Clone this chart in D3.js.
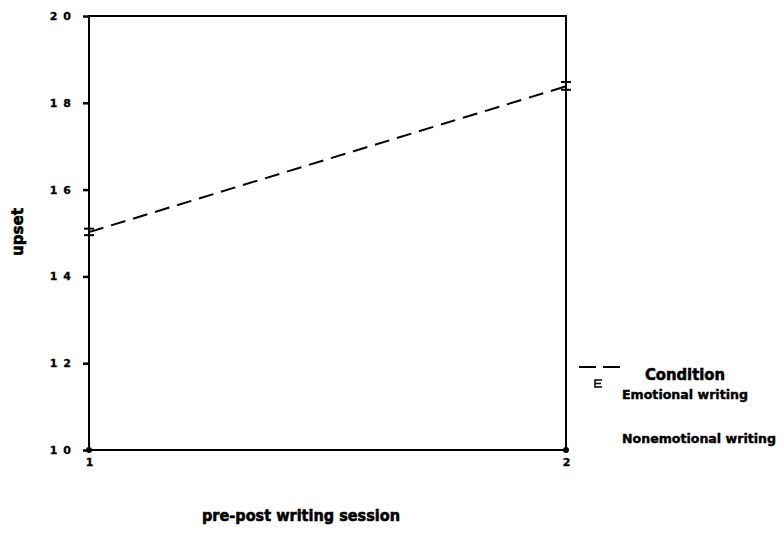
<!DOCTYPE html>
<html>
<head>
<meta charset="utf-8">
<script src="https://cdn.jsdelivr.net/npm/d3@7"></script>
<style>
  html, body { margin: 0; padding: 0; background: #fff; }
  svg { display: block; }
  text { font-family: "DejaVu Sans", "Liberation Sans", Arial, sans-serif; font-weight: bold; fill: #000; }
  text.heavy { stroke: #000; stroke-width: 0.6px; }
</style>
</head>
<body>
<svg id="chart" width="784" height="535"></svg>
<script>
// Sessions on the x axis (pre = 1, post = 2)
const sessions = [1, 2];
// Mean "upset" ratings for the emotional-writing condition
const emotionalMeans = [15.02, 18.38];
// Error bar bounds for each session
const emotionalLow = [14.95, 18.30];
const emotionalHigh = [15.10, 18.48];
// Axis tick values and labels
const yTicks = [10, 12, 14, 16, 18, 20];
const yTickLabels = ["1 0", "1 2", "1 4", "1 6", "1 8", "2 0"];
const xTickLabels = ["1", "2"];
// Legend entries
const legendTitle = "Condition";
const legendNames = ["Emotional writing", "Nonemotional writing"];

const svg = d3.select("#chart");
const plotLeft = 89, plotRight = 566, plotTop = 16, plotBottom = 450;
const fontFamily = "DejaVu Sans, Liberation Sans, Arial, sans-serif";

const x = d3.scaleLinear().domain([1, 2]).range([plotLeft, plotRight]);
const y = d3.scaleLinear().domain([10, 20]).range([plotBottom, plotTop]);

// Frame around the plot area
svg.append("rect")
  .attr("x", plotLeft).attr("y", plotTop)
  .attr("width", plotRight - plotLeft).attr("height", plotBottom - plotTop)
  .attr("fill", "none").attr("stroke", "#000").attr("stroke-width", 2);

// Y axis: short tick stubs and spaced-digit labels
const yAxis = d3.axisLeft(y).tickValues(yTicks)
  .tickFormat((d, i) => yTickLabels[i]).tickSize(6).tickPadding(11);
const gy = svg.append("g").attr("transform", `translate(${plotLeft},0)`).call(yAxis);
gy.select(".domain").remove();
gy.selectAll(".tick line").attr("stroke", "#000").attr("stroke-width", 2.5);
gy.selectAll(".tick text")
  .attr("class", "heavy")
  .style("font-size", "11px").style("font-family", fontFamily).style("font-weight", "bold")
  .style("letter-spacing", "1px").style("stroke-width", "0.3px");

// X axis labels
const xAxis = d3.axisBottom(x).tickValues(sessions)
  .tickFormat((d, i) => xTickLabels[i]).tickSize(0).tickPadding(8);
const gx = svg.append("g").attr("transform", `translate(0,${plotBottom})`).call(xAxis);
gx.select(".domain").remove();
gx.selectAll(".tick text")
  .attr("class", "heavy")
  .style("font-size", "11px").style("font-family", fontFamily).style("font-weight", "bold")
  .style("stroke-width", "0.3px");

// Corner dots where axes meet
svg.selectAll("circle.corner").data([[1, 10], [2, 10]]).enter().append("circle")
  .attr("cx", d => x(d[0])).attr("cy", d => y(d[1])).attr("r", 3).attr("fill", "#000");

// Emotional writing: dashed line of means
const pts = sessions.map((s, i) => [s, emotionalMeans[i]]);
svg.append("path")
  .datum(pts)
  .attr("d", d3.line().x(d => x(d[0])).y(d => y(d[1])))
  .attr("fill", "none").attr("stroke", "#000").attr("stroke-width", 2)
  .attr("stroke-dasharray", "15,8");

// Error bars
const eb = svg.append("g");
sessions.forEach((s, i) => {
  eb.append("line").attr("x1", x(s)).attr("x2", x(s))
    .attr("y1", y(emotionalLow[i])).attr("y2", y(emotionalHigh[i]))
    .attr("stroke", "#000").attr("stroke-width", 2);
  [emotionalLow[i], emotionalHigh[i]].forEach(v => {
    eb.append("line").attr("x1", x(s) - 5).attr("x2", x(s) + 5)
      .attr("y1", y(v)).attr("y2", y(v))
      .attr("stroke", "#000").attr("stroke-width", 2);
  });
});

// Axis titles
svg.append("text").attr("class", "heavy")
  .attr("transform", "translate(23,232) rotate(-90)")
  .attr("text-anchor", "middle")
  .attr("textLength", 48).attr("lengthAdjust", "spacingAndGlyphs")
  .style("font-size", "15px")
  .text("upset");
svg.append("text").attr("class", "heavy")
  .attr("x", 301).attr("y", 521)
  .attr("text-anchor", "middle")
  .attr("textLength", 198).attr("lengthAdjust", "spacingAndGlyphs")
  .style("font-size", "16px")
  .text("pre-post writing session");

// Legend
const lg = svg.append("g");
lg.append("text").attr("class", "heavy").attr("x", 645).attr("y", 380)
  .attr("textLength", 80).attr("lengthAdjust", "spacingAndGlyphs")
  .style("font-size", "16px").text(legendTitle);
lg.append("line").attr("x1", 579).attr("x2", 620).attr("y1", 367).attr("y2", 367)
  .attr("stroke", "#000").attr("stroke-width", 2).attr("stroke-dasharray", "17,7");
lg.append("path").attr("d", "M602,380 H595 V387 H602 M595,383.5 H601")
  .attr("fill", "none").attr("stroke", "#000").attr("stroke-width", 1.5);
const itemWidths = [126, 154];
lg.selectAll("text.item").data(legendNames).enter().append("text")
  .attr("class", "item heavy")
  .attr("x", 622).attr("y", (d, i) => 399 + i * 44)
  .attr("textLength", (d, i) => itemWidths[i]).attr("lengthAdjust", "spacingAndGlyphs")
  .style("font-size", "12px").style("stroke-width", "0.4px")
  .text(d => d);
</script>
</body>
</html>
